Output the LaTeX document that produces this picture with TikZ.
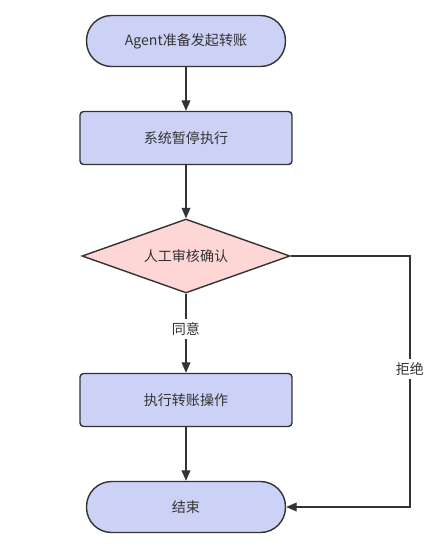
\documentclass[tikz,border=0pt]{standalone}
\usepackage{fontspec}
\setmainfont{Noto Sans CJK SC}
\usetikzlibrary{arrows.meta,shapes.geometric}

\definecolor{boxblue}{RGB}{204,210,245}
\definecolor{diapink}{RGB}{255,214,214}
\definecolor{linegray}{RGB}{51,51,51}

\begin{document}
\begin{tikzpicture}[x=0.02cm,y=-0.02cm,
    every node/.style={font=\fontsize{8}{10}\selectfont, text=linegray},
    terminal/.style={draw=linegray, line width=0.8pt, fill=boxblue, rectangle,
      rounded corners=0.5cm, minimum width=3.98cm, minimum height=1.02cm},
    process/.style={draw=linegray, line width=0.8pt, fill=boxblue, rectangle,
      rounded corners=2pt, minimum width=4.24cm, minimum height=1.06cm},
    decision/.style={draw=linegray, line width=0.8pt, fill=diapink, diamond,
      shape aspect=2.81, inner sep=0pt, minimum width=4.16cm, minimum height=1.48cm},
    flow/.style={draw=linegray, line width=0.8pt, -{Triangle[length=6pt,width=5pt]}},
    lbl/.style={fill=white, inner sep=2pt}]
  \useasboundingbox (0,0) rectangle (447,556);

  % Nodes
  \node[terminal] (start) at (186,41) {Agent准备发起转账};
  \node[process] (pause) at (186,138) {系统暂停执行};
  \node[decision] (check) at (186,256) {人工审核确认};
  \node[process] (transfer) at (186,400) {执行转账操作};
  \node[terminal] (finish) at (186,507) {结束};
  \coordinate (rtop) at (410,256);
  \coordinate (rbot) at (410,507);

  % Connectors
  \draw[flow] (start) -- (pause);
  \draw[flow] (pause) -- (check);
  \draw[flow] (check) -- node[lbl, pos=0.45] {同意} (transfer);
  \draw[flow] (transfer) -- (finish);
  \draw[flow] (check.east) -- (rtop) -- node[lbl, pos=0.45] {拒绝} (rbot) -- (finish.east);
\end{tikzpicture}
\end{document}
